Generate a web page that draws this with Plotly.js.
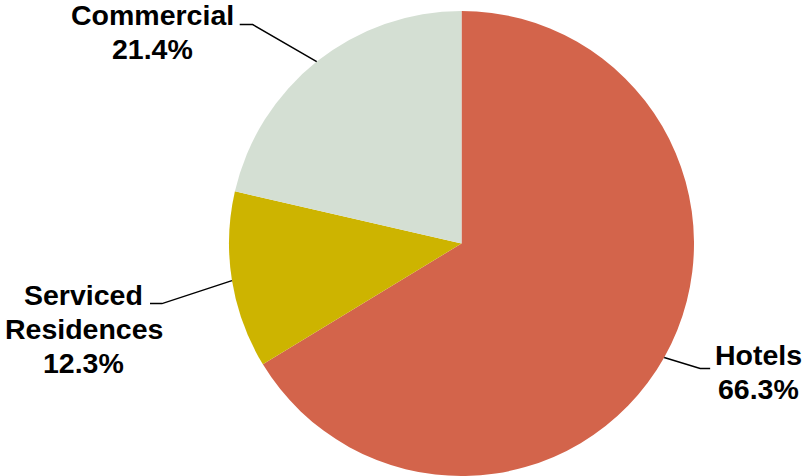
<!DOCTYPE html>
<html>
<head>
<meta charset="utf-8">
<script src="https://cdn.plot.ly/plotly-3.0.1.min.js"></script>
<style>html,body{margin:0;padding:0;background:#fff;}#chart{width:804px;height:476px;}</style>
</head>
<body>
<div id="chart"></div>
<script>
// Data
const categories = ["Hotels", "Serviced<br>Residences", "Commercial"];
const values = [66.3, 12.3, 21.4];
const colors = ["#D3644B", "#CDB400", "#D4DFD3"];

// Layout constants (pixels)
const W = 804, H = 476;
const cx = 461.5, cy = 243.5, R = 232.5;
const lineGap = 34;
// leader line: elbow offset from slice edge, horizontal run, centre of first text line
const labelLayout = [
  {elbow: [36, 11], run: 10, text: [758, 355]},
  {elbow: [-70, 23], run: -12, text: [83.5, 294.5]},
  {elbow: [-64, -37], run: -13, text: [152, 14.7]}
];

const total = values.reduce((a, b) => a + b, 0);
const px = x => x / W;
const py = y => (H - y) / H;

const shapes = [];
const annotations = [];
let cum = 0;
values.forEach((v, i) => {
  const theta = 2 * Math.PI * (cum + v / 2) / total;
  cum += v;
  const ex = cx + R * Math.sin(theta), ey = cy - R * Math.cos(theta);
  const L = labelLayout[i];
  const bx = ex + L.elbow[0], by = ey + L.elbow[1];
  const hx = bx + L.run;
  shapes.push({
    type: 'path', xref: 'paper', yref: 'paper',
    path: `M ${px(ex)} ${py(ey)} L ${px(bx)} ${py(by)} L ${px(hx)} ${py(by)}`,
    line: {color: '#000', width: 1.5}
  });
  const lines = categories[i].split('<br>').concat([(v / total * 100).toFixed(1) + '%']);
  lines.forEach((t, k) => {
    annotations.push({
      xref: 'paper', yref: 'paper', x: px(L.text[0]), y: py(L.text[1] + k * lineGap),
      xanchor: 'center', yanchor: 'middle', align: 'center', showarrow: false,
      borderpad: 0,
      text: '<b>' + t + '</b>',
      font: {family: 'Liberation Sans, Arial, sans-serif', size: 28.5, color: '#000'}
    });
  });
});

const data = [{
  type: 'pie',
  labels: categories,
  values: values,
  marker: {colors: colors, line: {width: 0}},
  sort: false,
  direction: 'clockwise',
  rotation: 0,
  textinfo: 'none',
  hoverinfo: 'none',
  domain: {x: [(cx - R) / W, (cx + R) / W], y: [(H - cy - R) / H, (H - cy + R) / H]}
}];

const layout = {
  width: W, height: H,
  margin: {l: 0, r: 0, t: 0, b: 0},
  showlegend: false,
  paper_bgcolor: '#fff',
  shapes: shapes,
  annotations: annotations
};

Plotly.newPlot('chart', data, layout, {staticPlot: true, displayModeBar: false});
</script>
</body>
</html>
